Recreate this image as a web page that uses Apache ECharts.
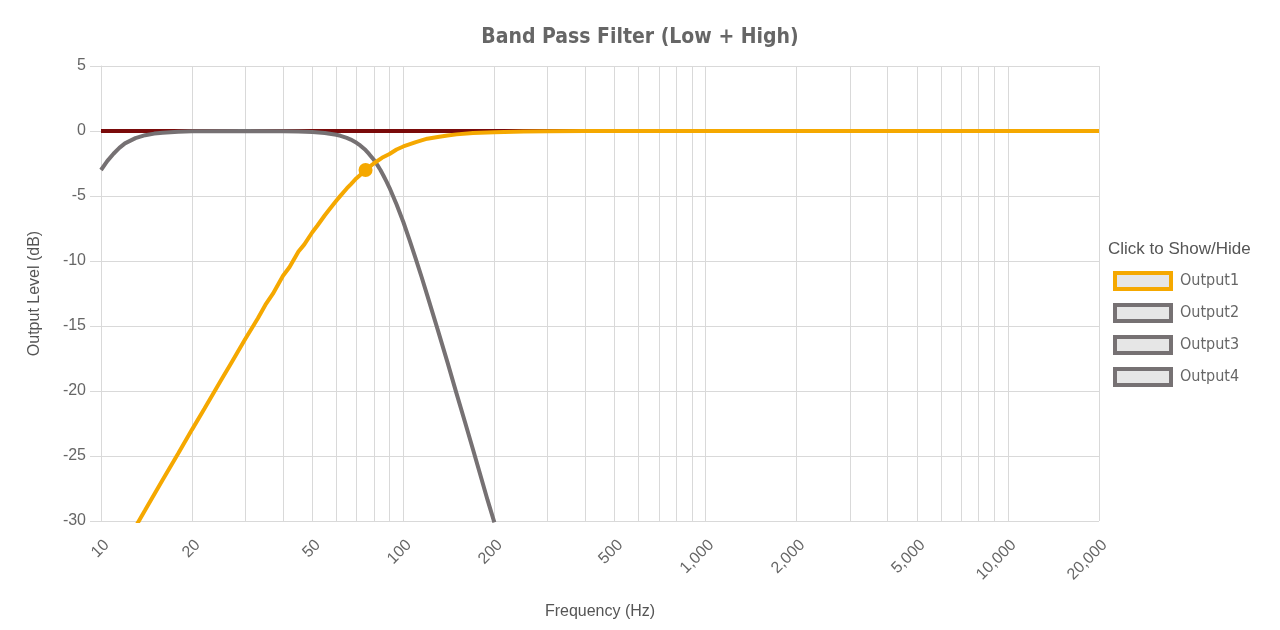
<!DOCTYPE html>
<html>
<head>
<meta charset="utf-8">
<script src="https://cdn.jsdelivr.net/npm/echarts@6/dist/echarts.min.js"></script>
<style>
	html, body { margin: 0; padding: 0; background: #fff; }
	#bandChart { width: 1280px; height: 630px; }
</style>
</head>
<body>
<div id="bandChart"></div>
<script>
// 频率网格 / 标签
const gridFreqs = [10, 20, 30, 40, 50, 60, 70, 80, 90, 100, 200, 300, 400, 500, 600, 700, 800, 900,
	1000, 2000, 3000, 4000, 5000, 6000, 7000, 8000, 9000, 10000, 20000]
const labelFreqs = [10, 20, 50, 100, 200, 500, 1000, 2000, 5000, 10000, 20000]

// Output1 : high pass (freq, dB)
const out1Freq = [10, 12, 14, 16, 18, 20, 22, 25, 27, 30, 33, 35, 37, 40, 42, 45, 47, 50, 52, 55, 57, 60, 62, 65, 67, 70, 72, 75, 78, 80, 85, 90, 95, 100, 110, 120, 130, 140, 150, 170, 200, 250, 300, 400, 500, 1000, 2000, 5000, 10000, 20000]
const out1Db = [-35.0, -31.84, -29.16, -26.83, -24.8, -22.97, -21.34, -19.14, -17.82, -16.0, -14.42, -13.36, -12.53, -11.14, -10.48, -9.27, -8.74, -7.79, -7.27, -6.48, -6.02, -5.37, -4.97, -4.42, -4.10, -3.63, -3.38, -3.01, -2.68, -2.48, -2.06, -1.77, -1.42, -1.19, -0.85, -0.59, -0.46, -0.34, -0.26, -0.16, -0.09, -0.04, -0.02, -0.005, 0, 0, 0, 0, 0, 0]

// Output2 : low pass with low-end roll off
const out2Freq = [10, 10.5, 11, 11.5, 12, 13, 14, 15, 16, 18, 20, 30, 40, 45, 50, 55, 60, 62, 65, 67, 70, 72, 75, 77, 80, 82, 84, 86, 88, 90, 95, 100, 105, 110, 115, 120, 130, 140, 150, 160, 170, 180, 190, 200]
const out2Db = [-3.0, -2.3, -1.75, -1.3, -0.95, -0.55, -0.32, -0.2, -0.13, -0.05, -0.02, 0, -0.01, -0.03, -0.07, -0.15, -0.29, -0.37, -0.53, -0.66, -0.91, -1.11, -1.47, -1.76, -2.24, -2.61, -3.0, -3.44, -3.89, -4.37, -5.66, -7.0, -8.43, -9.85, -11.25, -12.65, -15.3, -17.8, -20.2, -22.4, -24.5, -26.5, -28.4, -30.1]

const out3Db = []
const out4Db = []

// crossover marker
const markFreq = 75
const markDb = -3

const zip = (xs, ys) => xs.map((x, i) => [x, ys[i]])

const chartDom = document.getElementById('bandChart')
const myChart = echarts.init(chartDom)

const labelFont = "'Liberation Sans', Arial, sans-serif"
const condFont = "'DejaVu Sans Condensed', 'DejaVu Sans', sans-serif"
const gridColor = '#d9d9d9'
const orange = '#f5a800'
const gray = '#767173'

const legendItem = (name, color) => ({
	name: name,
	icon: 'rect',
	itemStyle: { color: '#e6e6e6', borderColor: color, borderWidth: 4 }
})

const options = {
	animation: false,
	title: [
		{
			text: 'Band Pass Filter (Low + High)',
			left: 'center',
			top: 22,
			textStyle: {
				fontFamily: condFont,
				fontWeight: 'bold',
				fontSize: 21,
				color: '#666'
			}
		},
		{
			text: 'Click to Show/Hide',
			left: 1103,
			top: 236,
			textStyle: {
				fontFamily: labelFont,
				fontWeight: 'normal',
				fontSize: 17,
				color: '#555'
			}
		}
	],
	legend: {
		orient: 'vertical',
		left: 1113,
		top: 271,
		padding: 0,
		itemWidth: 56,
		itemHeight: 16,
		itemGap: 12,
		textStyle: {
			fontFamily: condFont,
			fontSize: 16,
			color: '#666',
			padding: [0, 0, 0, 4]
		},
		data: [
			legendItem('Output1', orange),
			legendItem('Output2', gray),
			legendItem('Output3', gray),
			legendItem('Output4', gray)
		]
	},
	grid: {
		left: 101,
		right: 181,
		top: 66,
		bottom: 109
	},
	xAxis: {
		type: 'log',
		logBase: 10,
		min: 10,
		max: 20000,
		name: 'Frequency (Hz)',
		nameLocation: 'middle',
		nameGap: 83,
		nameTextStyle: { fontFamily: labelFont, fontSize: 16, color: '#555' },
		axisLine: { lineStyle: { color: gridColor } },
		axisTick: {
			show: true,
			length: 10,
			customValues: gridFreqs,
			lineStyle: { color: gridColor }
		},
		axisLabel: {
			customValues: labelFreqs,
			rotate: 45,
			margin: 16,
			verticalAlign: 'top',
			fontFamily: labelFont,
			fontSize: 16,
			color: '#666',
			formatter: (v) => Number(v).toLocaleString('en-US')
		},
		splitLine: { show: true, lineStyle: { color: gridColor } },
		minorTick: { show: false },
		minorSplitLine: { show: false }
	},
	yAxis: {
		type: 'value',
		min: -30,
		max: 5,
		interval: 5,
		name: 'Output Level (dB)',
		nameLocation: 'middle',
		nameGap: 58,
		nameTextStyle: { fontFamily: labelFont, fontSize: 16, color: '#555' },
		axisLine: { show: true, lineStyle: { color: gridColor } },
		axisTick: { show: true, length: 11, lineStyle: { color: gridColor } },
		axisLabel: {
			fontFamily: labelFont,
			fontSize: 16,
			color: '#666',
			margin: 15
		},
		splitLine: { show: true, lineStyle: { color: gridColor } }
	},
	series: [
		{
			name: 'zero',
			type: 'line',
			data: [],
			z: 1,
			silent: true,
			markLine: {
				silent: true,
				z: 1,
				symbol: 'none',
				label: { show: false },
				lineStyle: { color: '#7a0a0a', width: 4, type: 'solid' },
				data: [{ yAxis: 0 }]
			}
		},
		{
			name: 'Output2',
			type: 'line',
			z: 3,
			showSymbol: false,
			clip: true,
			lineStyle: { color: gray, width: 4 },
			itemStyle: { color: gray },
			data: zip(out2Freq, out2Db)
		},
		{
			name: 'Output3',
			type: 'line',
			z: 3,
			showSymbol: false,
			lineStyle: { color: gray, width: 4 },
			itemStyle: { color: gray },
			data: out3Db
		},
		{
			name: 'Output4',
			type: 'line',
			z: 3,
			showSymbol: false,
			lineStyle: { color: gray, width: 4 },
			itemStyle: { color: gray },
			data: out4Db
		},
		{
			name: 'Output1',
			type: 'line',
			z: 4,
			showSymbol: false,
			clip: true,
			lineStyle: { color: orange, width: 4 },
			itemStyle: { color: orange },
			data: zip(out1Freq, out1Db),
			markPoint: {
				symbol: 'circle',
				symbolSize: 14,
				label: { show: false },
				itemStyle: { color: orange },
				data: [{ coord: [markFreq, markDb] }]
			}
		}
	]
}

myChart.setOption(options)
</script>
</body>
</html>
